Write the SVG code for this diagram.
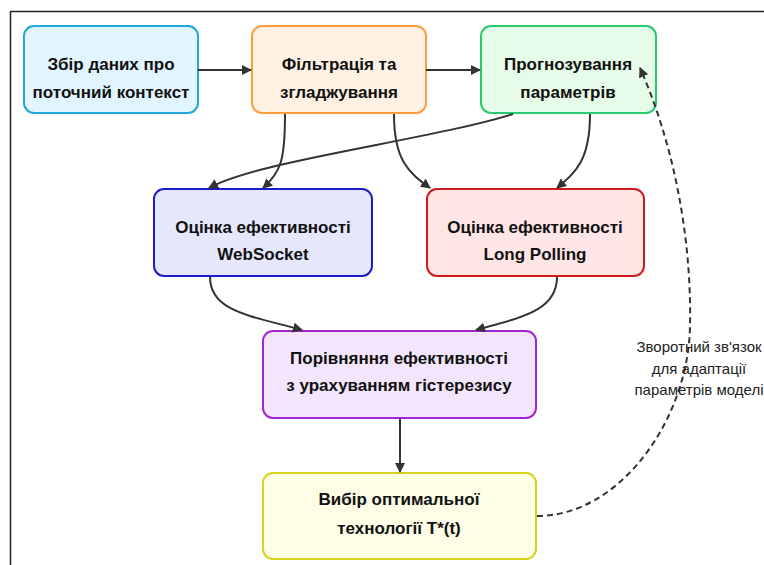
<svg xmlns="http://www.w3.org/2000/svg" width="764" height="565" viewBox="0 0 764 565">
<defs>
<style>
.n{stroke-width:2}
.t{font-family:"Liberation Sans",Arial,sans-serif;font-weight:bold;font-size:17px;fill:#111;text-anchor:middle}
.c{fill:none;stroke:#333;stroke-width:2}
.d{fill:none;stroke:#333;stroke-width:2;stroke-dasharray:6 4}
.l{font-family:"Liberation Sans",Arial,sans-serif;font-size:15px;fill:#222;text-anchor:middle}
</style>
<marker id="a" viewBox="0 0 10 10" refX="9" refY="5" markerWidth="5" markerHeight="5" orient="auto" markerUnits="strokeWidth">
<path d="M0,0 L10,5 L0,10 z" fill="#333"/>
</marker>
</defs>
<rect width="764" height="565" fill="#fff"/>
<rect x="10.5" y="11.5" width="800" height="600" fill="none" stroke="#222" stroke-width="1.5"/>
<g id="n1">
<rect class="n" x="24" y="26" width="174" height="87" rx="10" fill="#e1f5fe" stroke="#22a8d8"/>
<text class="t" x="111" y="70">Збір даних про</text>
<text class="t" x="111" y="98">поточний контекст</text>
</g>
<g id="n2">
<rect class="n" x="252" y="26" width="174" height="87" rx="10" fill="#fff1e3" stroke="#ff9d3c"/>
<text class="t" x="339" y="70">Фільтрація та</text>
<text class="t" x="339" y="98">згладжування</text>
</g>
<g id="n3">
<rect class="n" x="481" y="26" width="175" height="87" rx="10" fill="#e6fce9" stroke="#2acb6c"/>
<text class="t" x="568" y="70">Прогнозування</text>
<text class="t" x="568" y="98">параметрів</text>
</g>
<g id="n4">
<rect class="n" x="154" y="189" width="218" height="87" rx="10" fill="#e6e6fc" stroke="#1c1cc8"/>
<text class="t" x="263" y="233">Оцінка ефективності</text>
<text class="t" x="263" y="260">WebSocket</text>
</g>
<g id="n5">
<rect class="n" x="427" y="189" width="217" height="87" rx="10" fill="#ffe6e6" stroke="#d01c1c"/>
<text class="t" x="535" y="233">Оцінка ефективності</text>
<text class="t" x="535" y="260">Long Polling</text>
</g>
<g id="n6">
<rect class="n" x="263" y="331" width="273" height="87" rx="10" fill="#f3e6fc" stroke="#a424d0"/>
<text class="t" x="399" y="364">Порівняння ефективності</text>
<text class="t" x="399" y="391">з урахуванням гістерезису</text>
</g>
<g id="n7">
<rect class="n" x="263" y="473" width="273" height="86" rx="10" fill="#fefee6" stroke="#d4d420"/>
<text class="t" x="399" y="505">Вибір оптимальної</text>
<text class="t" x="399" y="534">технології T*(t)</text>
</g>
<g id="connectors">
<path class="c" d="M198,70 L251,70" marker-end="url(#a)"/>
<path class="c" d="M426,70 L480,70" marker-end="url(#a)"/>
<path class="c" d="M285,114 C285,160 281,172 263,188" marker-end="url(#a)"/>
<path class="c" d="M513,114 C430,140 260,160 209,188" marker-end="url(#a)"/>
<path class="c" d="M394,114 C394,160 408,172 430,188" marker-end="url(#a)"/>
<path class="c" d="M590,114 C590,160 576,172 557,188" marker-end="url(#a)"/>
<path class="c" d="M210,277 C210,312 252,316 302,330" marker-end="url(#a)"/>
<path class="c" d="M557,277 C557,312 518,318 476,330" marker-end="url(#a)"/>
<path class="c" d="M400,419 L400,472" marker-end="url(#a)"/>
<path class="d" d="M537,516 C620,516 688,420 690,327 C692,234 672,140 640,68" marker-end="url(#a)"/>
</g>
<g id="label">
<text class="l" x="699" y="352">Зворотний зв'язок</text>
<text class="l" x="699" y="374">для адаптації</text>
<text class="l" x="699" y="395">параметрів моделі</text>
</g>
</svg>
